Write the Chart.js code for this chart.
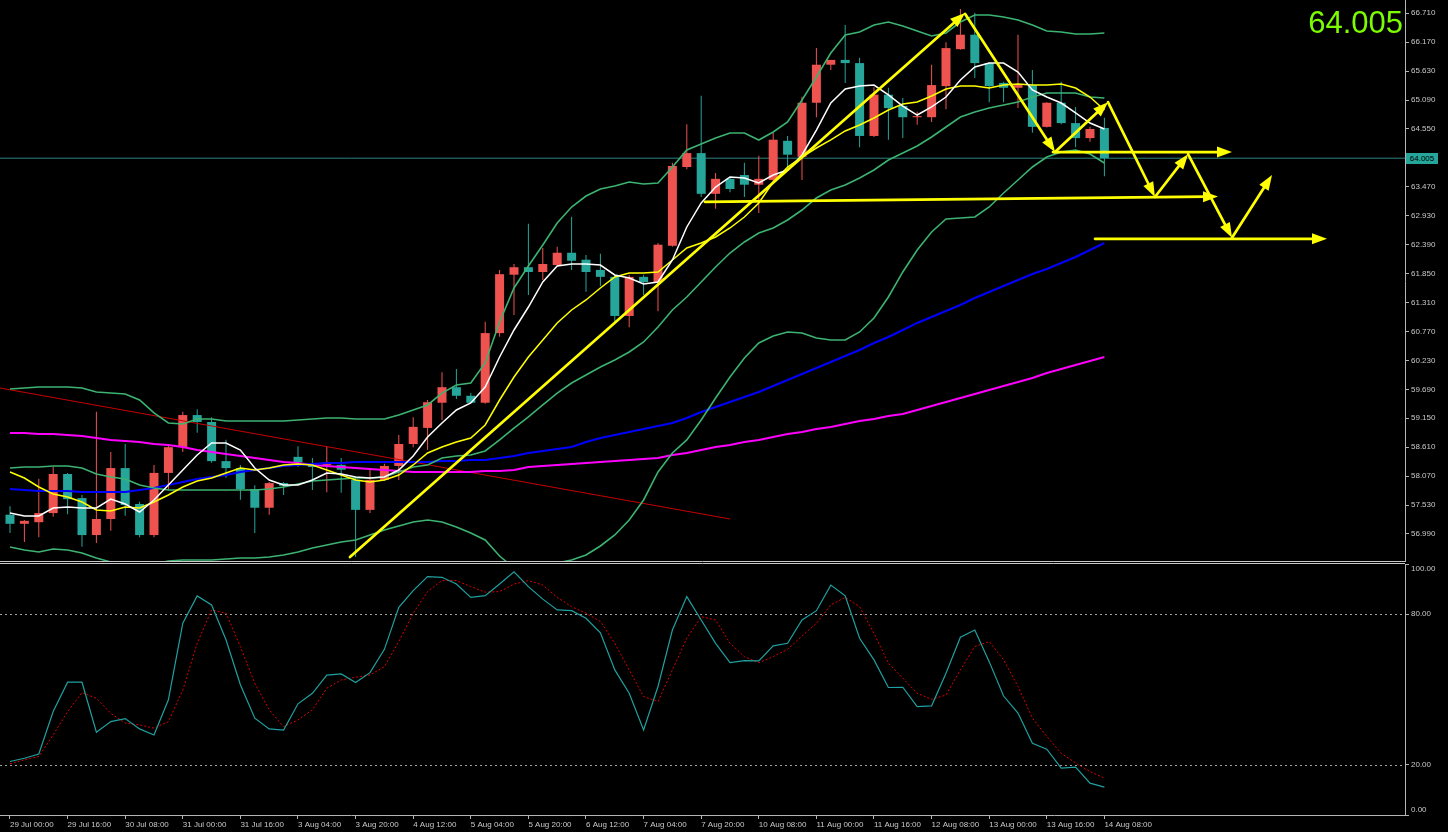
<!DOCTYPE html>
<html>
<head>
<meta charset="utf-8">
<script src="https://cdn.jsdelivr.net/npm/chart.js@4.4.1/dist/chart.umd.min.js"></script>
<style>
html,body{margin:0;padding:0;background:#000;overflow:hidden;}
#wrap{position:relative;width:1448px;height:832px;background:#000;}
#main{position:absolute;left:0;top:0;}
#stoch{position:absolute;left:0;top:556px;}
#bigPrice{position:absolute;right:45px;top:7px;font-family:'Liberation Sans',Arial,sans-serif;font-size:31px;line-height:31px;color:#7cfc00;}
#priceTag{position:absolute;left:1406px;width:32px;height:11px;background:#26a69a;color:#000;font-family:'Liberation Sans',Arial,sans-serif;font-size:8px;line-height:11px;text-align:center;}
</style>
</head>
<body>
<div id="wrap">
  <canvas id="main" width="1448" height="562"></canvas>
  <canvas id="stoch" width="1448" height="276"></canvas>
  <div id="bigPrice"></div>
  <div id="priceTag"></div>
</div>
<script>
// ---------------- DATA ----------------
const timeLabels = ['29 Jul 00:00','29 Jul 16:00','30 Jul 08:00','31 Jul 00:00','31 Jul 16:00','3 Aug 04:00','3 Aug 20:00','4 Aug 12:00','5 Aug 04:00','5 Aug 20:00','6 Aug 12:00','7 Aug 04:00','7 Aug 20:00','10 Aug 08:00','11 Aug 00:00','11 Aug 16:00','12 Aug 08:00','13 Aug 00:00','13 Aug 16:00','14 Aug 08:00'];
const barsPerLabel = 4;

const priceTicks = [66.71,66.17,65.63,65.09,64.55,63.47,62.93,62.39,61.85,61.31,60.77,60.23,59.69,59.15,58.61,58.07,57.53,56.99];
const stochTicks = [100,80,20,0];
const stochLevels = [80,20];

const opens = [57.35,57.18,57.21,57.38,58.11,57.66,56.97,57.27,58.22,57.55,
  56.97,58.13,58.61,59.21,59.08,58.35,58.22,57.83,57.48,57.94,
  58.43,58.31,58.28,58.28,58.00,57.44,58.00,58.26,58.67,58.97,
  59.44,59.73,59.57,59.44,60.74,61.83,61.97,61.88,62.01,62.24,
  62.11,61.92,61.79,61.06,61.79,61.69,62.37,63.84,64.10,63.34,
  63.62,63.69,63.51,63.60,64.33,64.03,65.04,65.75,65.84,65.78,
  64.42,65.19,64.98,64.77,64.77,65.35,66.04,66.31,65.78,65.41,
  65.32,65.37,64.59,65.04,64.66,64.38,64.57];
const highs = [57.51,57.25,58.02,58.24,58.13,57.72,59.27,58.52,58.67,57.59,
  58.28,58.67,59.27,59.32,59.17,58.75,58.28,57.90,57.96,57.96,
  58.63,58.41,58.63,58.41,58.05,58.22,58.30,58.84,59.17,59.49,
  60.01,60.07,59.62,60.95,61.92,62.03,62.78,62.33,62.35,62.91,
  62.20,62.22,61.83,61.83,61.83,62.42,63.92,64.64,65.17,63.73,
  63.64,63.92,64.05,64.48,64.42,65.15,66.06,65.84,66.49,65.88,
  65.33,65.32,65.13,64.87,65.75,66.17,66.79,66.72,65.80,65.43,
  66.31,65.65,65.05,65.43,64.96,64.59,64.76];
const lows = [57.01,56.84,56.93,57.31,57.36,56.75,56.82,57.05,57.33,56.93,
  56.93,57.81,58.52,58.88,58.32,58.04,57.63,57.01,57.35,57.72,
  58.24,57.81,57.77,57.76,56.56,57.38,57.99,58.00,58.61,58.56,
  59.12,59.51,59.43,59.42,60.67,61.08,61.45,61.73,62.00,61.92,
  61.51,61.62,60.95,60.85,61.45,61.15,62.35,63.80,63.28,63.06,
  63.37,63.28,62.98,63.56,63.82,63.60,64.77,65.65,65.41,64.21,
  64.40,64.35,64.38,64.63,64.68,64.92,66.03,65.50,65.05,65.05,
  64.94,64.48,64.58,64.64,64.21,64.31,63.67];
const closes = [57.18,57.235,57.38,58.11,57.64,56.97,57.27,58.22,57.53,56.97,
  58.13,58.61,59.21,59.08,58.35,58.22,57.83,57.48,57.94,57.89,
  58.33,58.24,58.32,58.19,57.44,58.00,58.26,58.67,58.99,59.45,
  59.73,59.57,59.44,60.74,61.84,61.97,61.88,62.03,62.24,62.09,
  61.88,61.79,61.06,61.79,61.69,62.39,63.86,64.10,63.34,63.62,
  63.43,63.51,63.62,64.35,64.07,65.04,65.75,65.84,65.78,64.42,
  65.19,64.94,64.77,64.79,65.37,66.06,66.31,65.78,65.35,65.32,
  65.37,64.59,65.04,64.66,64.38,64.55,64.005];

const bandUpper = [59.697,59.715,59.734,59.734,59.734,59.715,59.640,59.621,59.603,59.491,
  59.249,59.062,59.043,59.137,59.137,59.099,59.099,59.099,59.099,59.099,
  59.118,59.137,59.155,59.155,59.137,59.137,59.137,59.211,59.305,59.398,
  59.621,59.771,59.809,60.182,60.947,61.582,61.993,62.385,62.795,63.094,
  63.299,63.430,63.486,63.561,63.523,63.542,63.841,64.158,64.270,64.382,
  64.475,64.475,64.345,64.494,64.681,65.091,65.521,65.969,66.305,66.361,
  66.491,66.547,66.473,66.379,66.286,66.342,66.547,66.678,66.678,66.641,
  66.585,66.491,66.379,66.361,66.323,66.323,66.342];
const bandMiddle = [58.222,58.240,58.240,58.259,58.259,58.222,58.110,58.054,58.016,57.904,
  57.849,57.811,57.811,57.811,57.811,57.811,57.811,57.811,57.830,57.867,
  57.923,57.979,57.998,58.016,58.035,58.035,58.054,58.147,58.240,58.278,
  58.408,58.446,58.465,58.539,58.745,58.968,59.174,59.398,59.621,59.809,
  59.958,60.107,60.238,60.387,60.574,60.854,61.171,61.414,61.694,61.974,
  62.235,62.441,62.609,62.702,62.851,63.038,63.262,63.411,63.505,63.635,
  63.785,63.971,64.102,64.233,64.401,64.587,64.774,64.867,64.942,64.998,
  65.054,65.147,65.222,65.222,65.222,65.147,65.129];
const bandLower = [56.747,56.691,56.654,56.710,56.691,56.635,56.541,56.467,56.411,56.355,
  56.430,56.486,56.505,56.505,56.505,56.523,56.541,56.541,56.560,56.598,
  56.654,56.728,56.784,56.841,56.878,56.971,57.065,57.139,57.214,57.251,
  57.214,57.120,57.009,56.878,56.579,56.355,56.355,56.411,56.449,56.505,
  56.598,56.766,56.971,57.251,57.625,58.147,58.502,58.745,59.118,59.529,
  59.920,60.275,60.555,60.686,60.761,60.742,60.649,60.611,60.611,60.761,
  61.022,61.414,61.881,62.291,62.627,62.870,62.889,62.907,63.094,63.355,
  63.598,63.841,64.027,64.121,64.158,64.083,63.915];
const maWhite = [57.382,57.326,57.326,57.475,57.494,57.475,57.475,57.643,57.550,57.400,
  57.625,57.904,58.184,58.465,58.689,58.689,58.558,58.222,57.998,57.904,
  57.904,57.998,58.128,58.110,58.054,58.035,58.054,58.184,58.446,58.801,
  59.062,59.305,59.435,59.734,60.294,60.798,61.227,61.694,61.993,62.030,
  62.030,62.011,61.825,61.769,61.657,61.694,62.105,62.721,63.169,63.467,
  63.654,63.635,63.542,63.691,63.785,64.065,64.531,65.035,65.297,65.353,
  65.371,65.185,64.979,64.811,64.961,65.147,65.465,65.707,65.782,65.782,
  65.614,65.278,65.147,65.035,64.849,64.662,64.550];
const maYellow = [58.147,58.035,57.867,57.736,57.680,57.587,57.438,57.419,57.494,57.475,
  57.587,57.718,57.867,57.979,58.035,58.128,58.222,58.184,58.222,58.278,
  58.296,58.278,58.184,58.091,57.998,57.960,57.998,58.091,58.278,58.502,
  58.614,58.707,58.782,59.025,59.491,59.920,60.294,60.611,60.929,61.171,
  61.358,61.582,61.787,61.862,61.862,61.881,62.105,62.329,62.422,62.534,
  62.702,62.907,63.169,63.561,63.841,64.027,64.195,64.345,64.513,64.625,
  64.755,64.905,65.017,65.054,65.166,65.297,65.353,65.353,65.315,65.371,
  65.390,65.371,65.371,65.390,65.315,65.147,64.905];
const maBlue = [57.830,57.811,57.792,57.792,57.792,57.774,57.774,57.774,57.774,57.811,
  57.849,57.904,57.960,58.016,58.054,58.091,58.147,58.184,58.222,58.259,
  58.278,58.296,58.315,58.315,58.334,58.334,58.334,58.334,58.334,58.334,
  58.352,58.352,58.371,58.371,58.408,58.446,58.502,58.539,58.577,58.614,
  58.707,58.782,58.838,58.894,58.950,59.006,59.062,59.155,59.267,59.361,
  59.454,59.547,59.640,59.752,59.864,59.976,60.089,60.201,60.313,60.425,
  60.555,60.667,60.798,60.929,61.041,61.153,61.265,61.395,61.507,61.619,
  61.731,61.843,61.937,62.049,62.161,62.291,62.422];
const maMagenta = [58.875,58.875,58.857,58.857,58.838,58.819,58.782,58.745,58.726,58.707,
  58.670,58.651,58.614,58.558,58.521,58.483,58.446,58.408,58.371,58.334,
  58.315,58.278,58.259,58.240,58.222,58.203,58.184,58.166,58.147,58.147,
  58.147,58.147,58.147,58.166,58.166,58.184,58.240,58.259,58.278,58.296,
  58.315,58.334,58.352,58.371,58.390,58.408,58.465,58.502,58.558,58.614,
  58.651,58.707,58.745,58.801,58.857,58.894,58.950,58.987,59.043,59.099,
  59.137,59.193,59.230,59.305,59.379,59.454,59.529,59.603,59.678,59.752,
  59.827,59.902,59.995,60.070,60.144,60.219,60.294];

const stochK = [21.3,22.6,24.3,41.2,52.9,52.9,33.0,37.2,38.4,34.3,
  31.9,45.9,76.4,87.3,83.7,69.8,51.9,38.6,34.3,33.8,
  44.3,48.5,55.7,56.2,52.8,56.7,66.0,82.7,89.4,95.0,
  94.7,92.0,86.7,87.4,92.0,96.9,91.0,86.0,81.7,81.4,
  78.4,72.6,57.8,48.5,33.9,51.2,73.7,87.0,77.7,68.4,
  60.7,61.5,61.4,67.4,68.4,77.7,81.4,91.6,87.3,70.4,
  61.8,50.8,50.9,43.2,43.5,56.5,70.8,73.7,61.1,47.4,
  40.6,28.6,26.2,18.7,19.1,12.7,11.1];
const stochD = [20.4,22.0,23.3,31.9,41.2,48.8,46.5,40.5,36.6,35.9,
  34.6,37.2,49.8,68.4,81.7,80.4,67.1,52.5,41.9,35.2,
  37.9,41.9,50.5,53.8,54.9,55.8,59.1,69.1,80.4,89.0,
  93.4,93.4,91.0,88.8,89.0,92.0,93.4,91.6,86.7,83.0,
  80.4,77.1,68.4,57.8,47.2,45.2,57.8,70.4,79.0,77.7,
  68.4,63.1,60.7,63.1,66.0,71.3,76.4,83.7,86.7,83.0,
  72.4,60.5,54.5,48.5,46.1,47.8,57.8,67.1,69.1,61.8,
  51.2,38.6,31.3,24.6,20.7,17.3,14.7];

// trend line drawn on chart: [barStart, priceStart, barEnd, priceEnd]
const redTrend = [[-0.69, 59.715], [50.0, 57.27]];
// yellow arrow objects: [barStart, priceStart, barEnd, priceEnd] (arrow head at end)
const arrowSegments = [
  [23.61, 56.56, 66.32, 66.715],
  [66.32, 66.70, 72.57, 64.12],
  [72.57, 64.12, 76.25, 65.05],
  [76.25, 65.05, 79.51, 63.28],
  [79.51, 63.28, 81.81, 64.08],
  [81.81, 64.08, 84.86, 62.52],
  [84.86, 62.52, 87.64, 63.69],
  [72.43, 64.12, 84.86, 64.12],
  [48.26, 63.19, 83.89, 63.29],
  [75.35, 62.50, 91.46, 62.50]
];

// ---------------- VIEW SETTINGS ----------------
const xMin = -0.694, xMax = 96.875;
const yMin = 56.467, yMax = 66.958;
const lastPrice = closes[closes.length - 1];
const upColor = '#ef5350', downColor = '#26a69a';
const axisColor = '#b4b4b4', textColor = '#c8c8c8';
const FONT = "'Liberation Sans', Arial, sans-serif";
Chart.defaults.font.family = FONT;

const xy = arr => arr.map((v, i) => ({x: i, y: v}));
const candleColor = ctx => (closes[ctx.dataIndex] >= opens[ctx.dataIndex] ? upColor : downColor);
const zeroPad = s => { s.paddingTop = 0; s.paddingBottom = 0; s.paddingLeft = 0; s.paddingRight = 0; };
const lineDs = (label, data, color, width, order, extra) => Object.assign({
  type: 'line', label, data: xy(data), borderColor: color, borderWidth: width,
  pointRadius: 0, tension: 0, fill: false, order
}, extra || {});

const arrowPlugin = {
  id: 'arrows',
  afterDatasetsDraw(chart) {
    const {ctx, chartArea: a, scales: {x, y}} = chart;
    ctx.save();
    ctx.beginPath(); ctx.rect(a.left, a.top, a.right - a.left, a.bottom - a.top); ctx.clip();
    ctx.strokeStyle = '#ffff00'; ctx.fillStyle = '#ffff00'; ctx.lineWidth = 2.7; ctx.lineCap = 'round';
    arrowSegments.forEach(([b0, p0, b1, p1]) => {
      const x0 = x.getPixelForValue(b0), y0 = y.getPixelForValue(p0);
      const x1 = x.getPixelForValue(b1), y1 = y.getPixelForValue(p1);
      const ang = Math.atan2(y1 - y0, x1 - x0), L = 15, W = 5.5;
      const c = Math.cos(ang), s = Math.sin(ang);
      const bx = x1 - L * c, by = y1 - L * s;
      ctx.beginPath(); ctx.moveTo(x0, y0); ctx.lineTo(bx + 3 * c, by + 3 * s); ctx.stroke();
      ctx.beginPath(); ctx.moveTo(x1, y1);
      ctx.lineTo(bx + W * s, by - W * c); ctx.lineTo(bx - W * s, by + W * c);
      ctx.closePath(); ctx.fill();
    });
    ctx.restore();
  }
};

const mainChart = new Chart(document.getElementById('main'), {
  type: 'bar',
  data: {
    datasets: [
      lineDs('MA fast', maWhite, '#ffffff', 1.5, 1),
      lineDs('MA slow', maYellow, '#ffff00', 1.5, 2),
      lineDs('BB upper', bandUpper, '#3cb371', 1.6, 3),
      lineDs('BB middle', bandMiddle, '#3cb371', 1.6, 3),
      lineDs('BB lower', bandLower, '#3cb371', 1.6, 3),
      lineDs('MA 50', maBlue, '#0000ff', 2, 4),
      lineDs('MA 100', maMagenta, '#ff00ff', 2, 5),
      {type: 'line', label: 'Trend', data: redTrend.map(([b, p]) => ({x: b, y: p})), borderColor: '#c80000', borderWidth: 1, pointRadius: 0, order: 6},
      {type: 'bar', label: 'Bodies', data: opens.map((o, i) => ({x: i, y: [o, closes[i]]})), backgroundColor: candleColor, borderWidth: 0, maxBarThickness: 9, minBarLength: 1, grouped: false, order: 7},
      {type: 'bar', label: 'Wicks', data: opens.map((o, i) => ({x: i, y: [lows[i], highs[i]]})), backgroundColor: candleColor, borderWidth: 0, maxBarThickness: 1, minBarLength: 1, grouped: false, order: 8},
      {type: 'line', label: 'Bid', data: [{x: xMin, y: lastPrice}, {x: xMax, y: lastPrice}], borderColor: '#2b8585', borderWidth: 1, pointRadius: 0, order: 9}
    ]
  },
  options: {
    responsive: false, animation: false, events: [],
    layout: {padding: 0},
    plugins: {legend: {display: false}, tooltip: {enabled: false}},
    scales: {
      x: {type: 'linear', min: xMin, max: xMax, offset: false, display: false, grid: {offset: false}},
      y: {
        type: 'linear', position: 'right', min: yMin, max: yMax,
        afterFit: s => { s.width = 43; zeroPad(s); },
        afterBuildTicks: s => { s.ticks = priceTicks.map(v => ({value: v})); },
        ticks: {color: textColor, font: {size: 8}, padding: 2, autoSkip: false, callback: v => Number(v).toFixed(3)},
        grid: {drawOnChartArea: false, drawTicks: true, tickLength: 4, color: axisColor},
        border: {display: true, color: axisColor, width: 1}
      }
    }
  },
  plugins: [arrowPlugin]
});

const stochPlugin = {
  id: 'stochDecor',
  beforeDatasetsDraw(chart) {
    const {ctx, chartArea: a, scales: {y}} = chart;
    ctx.save();
    ctx.strokeStyle = '#a0a0a0'; ctx.lineWidth = 1; ctx.setLineDash([2, 3]);
    stochLevels.forEach(v => {
      const py = Math.round(y.getPixelForValue(v)) + 0.5;
      ctx.beginPath(); ctx.moveTo(a.left, py); ctx.lineTo(a.right, py); ctx.stroke();
    });
    ctx.restore();
  },
  afterDraw(chart) {
    const {ctx, chartArea: a, scales: {y}} = chart;
    ctx.save();
    ctx.strokeStyle = '#c8c8c8'; ctx.lineWidth = 1;
    [a.top - 2.5, a.top - 0.5].forEach(py => { ctx.beginPath(); ctx.moveTo(0, py); ctx.lineTo(a.right, py); ctx.stroke(); });
    ctx.fillStyle = textColor; ctx.font = '8px ' + FONT; ctx.textAlign = 'left'; ctx.textBaseline = 'middle';
    stochTicks.forEach(v => {
      let py = y.getPixelForValue(v);
      py = Math.min(Math.max(py, y.top + 5), y.bottom - 5);
      ctx.fillText(v.toFixed(2), y.left + 6, py);
    });
    ctx.restore();
  }
};

new Chart(document.getElementById('stoch'), {
  type: 'line',
  data: {
    datasets: [
      {label: '%K', data: xy(stochK), borderColor: '#20a0a0', borderWidth: 1.2, pointRadius: 0, tension: 0, order: 1},
      {label: '%D', data: xy(stochD), borderColor: '#e00000', borderWidth: 1, borderDash: [2, 2], pointRadius: 0, tension: 0, order: 2}
    ]
  },
  options: {
    responsive: false, animation: false, events: [],
    layout: {padding: {top: 8, left: 0, right: 0, bottom: 0}},
    plugins: {legend: {display: false}, tooltip: {enabled: false}},
    scales: {
      x: {
        type: 'linear', min: xMin, max: xMax, offset: false, position: 'bottom',
        afterFit: s => { s.height = 17; zeroPad(s); },
        afterBuildTicks: s => { s.ticks = timeLabels.map((t, i) => ({value: i * barsPerLabel})); },
        ticks: {color: textColor, font: {size: 8}, padding: 1, align: 'start', maxRotation: 0, minRotation: 0, autoSkip: false,
                callback: (v, i) => timeLabels[i]},
        grid: {drawOnChartArea: false, drawTicks: true, tickLength: 4, color: axisColor},
        border: {display: true, color: axisColor, width: 1}
      },
      y: {
        type: 'linear', position: 'right', min: 0, max: 100,
        afterFit: s => { s.width = 43; zeroPad(s); },
        afterBuildTicks: s => { s.ticks = stochTicks.map(v => ({value: v})); },
        ticks: {color: textColor, font: {size: 8}, padding: 2, autoSkip: false, callback: () => ''},
        grid: {drawOnChartArea: false, drawTicks: true, tickLength: 4, color: axisColor},
        border: {display: true, color: axisColor, width: 1}
      }
    }
  },
  plugins: [stochPlugin]
});

document.getElementById('bigPrice').textContent = lastPrice.toFixed(3);
const tag = document.getElementById('priceTag');
tag.textContent = lastPrice.toFixed(3);
tag.style.top = (mainChart.scales.y.getPixelForValue(lastPrice) - 5.5) + 'px';
</script>
</body>
</html>
